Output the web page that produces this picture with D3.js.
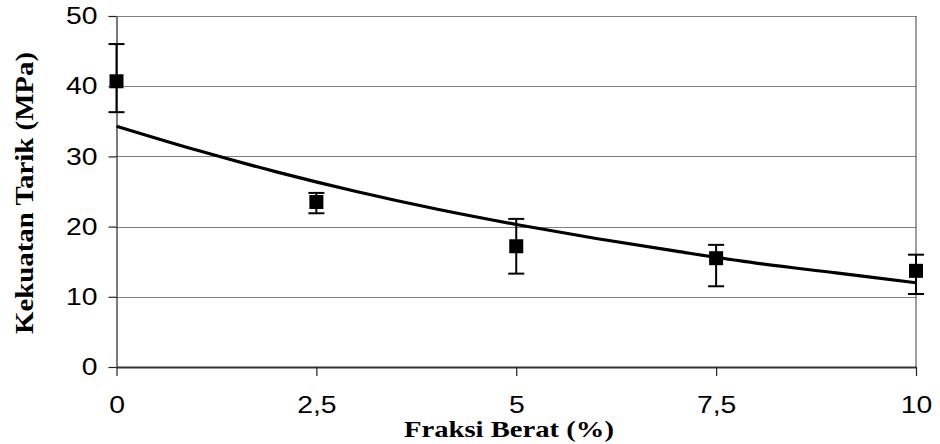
<!DOCTYPE html>
<html>
<head>
<meta charset="utf-8">
<script src="https://cdn.jsdelivr.net/npm/d3@7"></script>
<style>
  body { margin: 0; background: #fff; }
  svg { display: block; }
</style>
</head>
<body>
<div id="chart"></div>
<script>
// data
var fraksi = [0, 2.5, 5, 7.5, 10];
var kekuatan = [40.7, 23.5, 17.2, 15.5, 13.7];
var errAtas = [46.0, 24.8, 21.1, 17.4, 16.0];
var errBawah = [36.3, 21.9, 13.3, 11.5, 10.4];

// trend line (exponential fit shown in the picture)
var trendX = [0, 1, 2, 3, 4, 5, 6, 7, 8, 9, 10];
var trendY = [34.3, 30.9, 27.8, 25.0, 22.5, 20.3, 18.3, 16.5, 14.8, 13.4, 12.0];

var xTicks = [0, 2.5, 5, 7.5, 10];
var xTickLabels = ["0", "2,5", "5", "7,5", "10"];
var yTicks = [0, 10, 20, 30, 40, 50];
var yTickLabels = ["0", "10", "20", "30", "40", "50"];

var width = 940, height = 444;
var margin = { top: 16, right: 24, bottom: 77, left: 116.5 };
var stretch = 1.18;

var svg = d3.select("#chart").append("svg")
    .attr("width", width)
    .attr("height", height);

var x = d3.scaleLinear()
    .domain([0, 10])
    .range([margin.left, width - margin.right]);
var y = d3.scaleLinear()
    .domain([0, 50])
    .range([height - margin.bottom, margin.top]);

// gridlines
svg.append("g")
    .selectAll("line")
    .data(yTicks.slice(1))
    .enter().append("line")
    .attr("x1", x(0))
    .attr("x2", x(10))
    .attr("y1", function (d) { return Math.round(y(d)) + 0.5; })
    .attr("y2", function (d) { return Math.round(y(d)) + 0.5; })
    .attr("stroke", "#808080")
    .attr("stroke-width", 1);

// right border of plot
svg.append("line")
    .attr("x1", x(10)).attr("x2", x(10))
    .attr("y1", y(50)).attr("y2", y(0))
    .attr("stroke", "#404040")
    .attr("stroke-width", 1);

// y axis
var yAxis = svg.append("g")
    .attr("transform", "translate(" + x(0) + ",0)")
    .call(d3.axisLeft(y)
        .tickValues(yTicks)
        .tickFormat(function (d, i) { return yTickLabels[i]; })
        .tickSize(8)
        .tickSizeOuter(0)
        .tickPadding(11));
yAxis.select(".domain").attr("stroke", "#222").attr("stroke-width", 1.2);
yAxis.selectAll(".tick line").attr("stroke", "#222").attr("stroke-width", 1.2);
yAxis.selectAll(".tick text")
    .attr("font-family", "'Liberation Sans', Arial, sans-serif")
    .attr("font-size", 24)
    .attr("fill", "#000")
    .attr("x", -19 / stretch)
    .attr("transform", "scale(" + stretch + ",1)");

// x axis
var xAxis = svg.append("g")
    .attr("transform", "translate(0," + y(0) + ")")
    .call(d3.axisBottom(x)
        .tickValues(xTicks)
        .tickFormat(function (d, i) { return xTickLabels[i]; })
        .tickSize(9)
        .tickSizeOuter(0)
        .tickPadding(20));
xAxis.select(".domain").attr("stroke", "#333").attr("stroke-width", 1.8);
xAxis.selectAll(".tick line").attr("stroke", "#222").attr("stroke-width", 1.2);
xAxis.selectAll(".tick text")
    .attr("font-family", "'Liberation Sans', Arial, sans-serif")
    .attr("font-size", 24)
    .attr("fill", "#000")
    .attr("transform", "scale(" + stretch + ",1)");

// trend line
var line = d3.line()
    .x(function (d, i) { return x(trendX[i]); })
    .y(function (d) { return y(d); })
    .curve(d3.curveCatmullRom);
svg.append("path")
    .datum(trendY)
    .attr("d", line)
    .attr("fill", "none")
    .attr("stroke", "#000")
    .attr("stroke-width", 3.2);

// error bars
var eb = svg.append("g").attr("stroke", "#000").attr("stroke-width", 2);
eb.selectAll(".err")
    .data(fraksi)
    .enter().append("line")
    .attr("x1", function (d) { return x(d); })
    .attr("x2", function (d) { return x(d); })
    .attr("y1", function (d, i) { return y(errAtas[i]); })
    .attr("y2", function (d, i) { return y(errBawah[i]); });
eb.selectAll(".capTop")
    .data(fraksi)
    .enter().append("line")
    .attr("x1", function (d) { return x(d) - 8; })
    .attr("x2", function (d) { return x(d) + 8; })
    .attr("y1", function (d, i) { return y(errAtas[i]); })
    .attr("y2", function (d, i) { return y(errAtas[i]); });
eb.selectAll(".capBot")
    .data(fraksi)
    .enter().append("line")
    .attr("x1", function (d) { return x(d) - 8; })
    .attr("x2", function (d) { return x(d) + 8; })
    .attr("y1", function (d, i) { return y(errBawah[i]); })
    .attr("y2", function (d, i) { return y(errBawah[i]); });

// markers
var s = 14;
svg.selectAll(".pt")
    .data(fraksi)
    .enter().append("rect")
    .attr("x", function (d) { return x(d) - s / 2; })
    .attr("y", function (d, i) { return y(kekuatan[i]) - s / 2; })
    .attr("width", s)
    .attr("height", s)
    .attr("fill", "#000");

// axis titles
svg.append("text")
    .attr("x", 509)
    .attr("y", 437)
    .attr("text-anchor", "middle")
    .attr("font-family", "'Liberation Serif', 'Times New Roman', serif")
    .attr("font-weight", "bold")
    .attr("font-size", 23)
    .attr("textLength", 210)
    .attr("lengthAdjust", "spacingAndGlyphs")
    .text("Fraksi Berat (%)");

svg.append("text")
    .attr("transform", "translate(33,193) rotate(-90)")
    .attr("text-anchor", "middle")
    .attr("font-family", "'Liberation Serif', 'Times New Roman', serif")
    .attr("font-weight", "bold")
    .attr("font-size", 26)
    .attr("textLength", 282)
    .attr("lengthAdjust", "spacingAndGlyphs")
    .text("Kekuatan Tarik (MPa)");
</script>
</body>
</html>
